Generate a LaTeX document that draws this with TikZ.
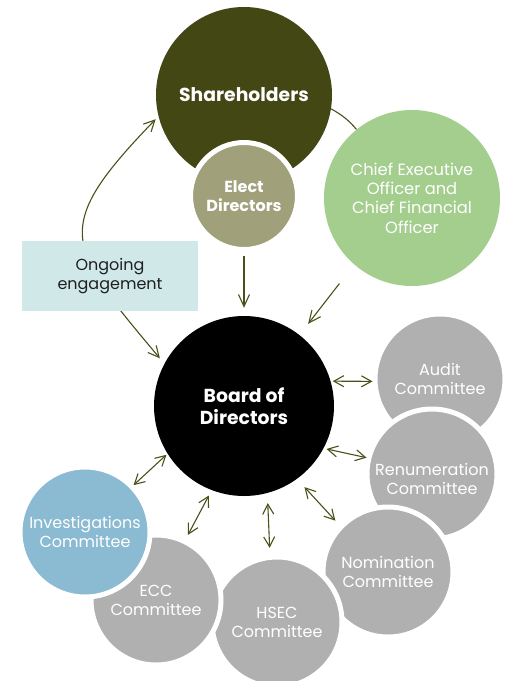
\documentclass[tikz,border=0pt]{standalone}
\usepackage{fontspec}
\setmainfont{Poppins}
\usepackage{tikz}
\usetikzlibrary{arrows.meta,positioning,calc}
\definecolor{holdercolor}{HTML}{434714}
\definecolor{electcolor}{HTML}{A0A07A}
\definecolor{officercolor}{HTML}{A4CE8E}
\definecolor{committeecolor}{HTML}{B0B0B0}
\definecolor{investcolor}{HTML}{8BBAD3}
\definecolor{engagecolor}{HTML}{D0E8E8}
\definecolor{ink}{HTML}{4B5019}
\tikzset{
  bignode/.style={
    circle,
    inner sep=0pt,
    align=center,
    text=white,
    font=\bfseries\fontsize{18.8}{21.7}\selectfont
  },
  electnode/.style={
    circle,
    inner sep=0pt,
    align=center,
    fill=electcolor,
    draw=white,
    line width=5pt,
    minimum size=107pt,
    text=white,
    font=\bfseries\fontsize{16}{19}\selectfont
  },
  officernode/.style={
    circle,
    inner sep=0pt,
    align=center,
    fill=officercolor,
    minimum size=176pt,
    text=white,
    font=\fontsize{16.3}{19.3}\selectfont
  },
  committeenode/.style={
    circle,
    inner sep=0pt,
    align=center,
    fill=committeecolor,
    draw=white,
    line width=5pt,
    minimum size=130pt,
    text=white,
    font=\fontsize{16}{19}\selectfont
  },
  engagenode/.style={
    rectangle,
    fill=engagecolor,
    align=center,
    minimum width=176pt,
    minimum height=70pt,
    text=black!88,
    font=\fontsize{16}{19}\selectfont
  },
  flowarrow/.style={-{Straight Barb[length=12pt,width=11pt]},line width=1.1pt,draw=ink},
  loopline/.style={{Straight Barb[length=11pt,width=11pt]}-{Straight Barb[length=11pt,width=11pt]},line width=1.1pt,draw=ink},
  linkarrow/.style={{Straight Barb[length=10pt,width=11pt]}-{Straight Barb[length=10pt,width=11pt]},line width=1.1pt,draw=ink}
}
\begin{document}
\begin{tikzpicture}[x=1pt,y=-1pt]
  \useasboundingbox[fill=white] (0,0) rectangle (506,681);
  \node[bignode, fill=holdercolor, minimum size=176pt] (holders) at (244,95) {Shareholders};
  \node[bignode, fill=black, minimum size=180pt] (board) at (244,406) {Board of\\Directors};
  \draw[loopline, shorten <=7pt, shorten >=4pt] (board.152) to[out=130,in=226,looseness=1.6] (holders.194);
  \node[officernode] (officers) at (412,198) {Chief Executive\\Officer and\\Chief Financial\\Officer};
  \draw[ink, line width=1.1pt] (holders.-9) to[out=-30,in=130] (officers.129);
  \draw[flowarrow, shorten <=24pt, shorten >=14pt] (officers.229) -- (board.52);
  \node[electnode] (elect) at (244,196) {Elect\\Directors};
  \node[engagenode] (engage) at (110,276) {Ongoing\\engagement};
  \node[committeenode] (audit) at (440,379) {Audit\\Committee};
  \node[committeenode] (renum) at (432,474) {\rule{0pt}{22pt}Renumeration\\Committee};
  \node[committeenode] (nomination) at (388,572) {Nomination\\Committee};
  \node[committeenode] (hsec) at (277,622) {HSEC\\Committee};
  \node[committeenode] (ecc) at (156,600) {ECC\\Committee};
  \node[committeenode, fill=investcolor] (invest) at (85,532) {Investigations\\Committee};
  \draw[flowarrow, shorten <=4pt, shorten >=8pt] (elect) -- (board);
  \draw[linkarrow, shorten <=2pt] (board.16) -- (audit.182);
  \draw[linkarrow, shorten <=3pt] (board.-28) -- (renum.166);
  \draw[linkarrow, shorten <=11pt, shorten >=6pt] (board.-54) -- (nomination.136);
  \draw[linkarrow, shorten <=10pt, shorten >=7pt] (board.-75) -- (hsec.96);
  \draw[linkarrow, shorten <=6pt, shorten >=5pt] (board.-111) -- (ecc.64);
  \draw[linkarrow, shorten <=1.5pt] (board.-148) -- (invest.44);
\end{tikzpicture}
\end{document}
